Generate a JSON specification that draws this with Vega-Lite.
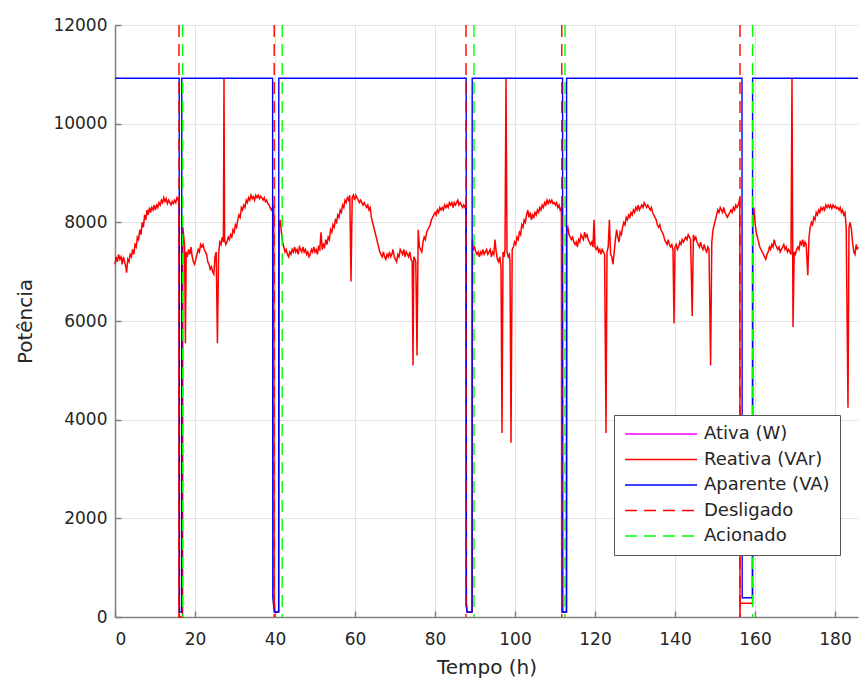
{
"$schema": "https://vega.github.io/schema/vega-lite/v6.json",
"autosize": "none",
"width": 743,
"height": 592,
"padding": {"left": 115, "top": 25, "right": 2, "bottom": 67},
"background": "white",
"datasets": {
"reativa": [
{"s":"Reativa (VAr)","t":0,"v":7150},{"s":"Reativa (VAr)","t":0.3,"v":7300},{"s":"Reativa (VAr)","t":0.6,"v":7200},{"s":"Reativa (VAr)","t":0.9,"v":7350},{"s":"Reativa (VAr)","t":1.2,"v":7250},{"s":"Reativa (VAr)","t":1.5,"v":7300},{"s":"Reativa (VAr)","t":1.8,"v":7150},{"s":"Reativa (VAr)","t":2.1,"v":7300},{"s":"Reativa (VAr)","t":2.4,"v":7200},{"s":"Reativa (VAr)","t":2.7,"v":7100},{"s":"Reativa (VAr)","t":2.9,"v":6980},{"s":"Reativa (VAr)","t":3.2,"v":7250},{"s":"Reativa (VAr)","t":3.5,"v":7200},{"s":"Reativa (VAr)","t":3.8,"v":7350},{"s":"Reativa (VAr)","t":4.1,"v":7300},{"s":"Reativa (VAr)","t":4.4,"v":7450},{"s":"Reativa (VAr)","t":4.7,"v":7350},{"s":"Reativa (VAr)","t":5.0,"v":7550},{"s":"Reativa (VAr)","t":5.3,"v":7500},{"s":"Reativa (VAr)","t":5.6,"v":7700},{"s":"Reativa (VAr)","t":5.9,"v":7650},{"s":"Reativa (VAr)","t":6.2,"v":7850},{"s":"Reativa (VAr)","t":6.5,"v":7750},{"s":"Reativa (VAr)","t":6.8,"v":8000},{"s":"Reativa (VAr)","t":7.1,"v":7900},{"s":"Reativa (VAr)","t":7.4,"v":8150},{"s":"Reativa (VAr)","t":7.7,"v":8050},{"s":"Reativa (VAr)","t":8.0,"v":8250},{"s":"Reativa (VAr)","t":8.3,"v":8150},{"s":"Reativa (VAr)","t":8.6,"v":8300},{"s":"Reativa (VAr)","t":8.9,"v":8200},{"s":"Reativa (VAr)","t":9.2,"v":8300},{"s":"Reativa (VAr)","t":9.5,"v":8250},{"s":"Reativa (VAr)","t":9.8,"v":8350},{"s":"Reativa (VAr)","t":10.1,"v":8250},{"s":"Reativa (VAr)","t":10.4,"v":8350},{"s":"Reativa (VAr)","t":10.7,"v":8300},{"s":"Reativa (VAr)","t":11.0,"v":8400},{"s":"Reativa (VAr)","t":11.3,"v":8350},{"s":"Reativa (VAr)","t":11.6,"v":8450},{"s":"Reativa (VAr)","t":11.9,"v":8400},{"s":"Reativa (VAr)","t":12.2,"v":8500},{"s":"Reativa (VAr)","t":12.5,"v":8420},{"s":"Reativa (VAr)","t":12.8,"v":8480},{"s":"Reativa (VAr)","t":13.1,"v":8380},{"s":"Reativa (VAr)","t":13.4,"v":8450},{"s":"Reativa (VAr)","t":13.7,"v":8400},{"s":"Reativa (VAr)","t":14.0,"v":8350},{"s":"Reativa (VAr)","t":14.3,"v":8420},{"s":"Reativa (VAr)","t":14.6,"v":8380},{"s":"Reativa (VAr)","t":14.9,"v":8450},{"s":"Reativa (VAr)","t":15.2,"v":8400},{"s":"Reativa (VAr)","t":15.5,"v":8500},{"s":"Reativa (VAr)","t":15.8,"v":8450},{"s":"Reativa (VAr)","t":16.0,"v":8450},{"s":"Reativa (VAr)","t":16.02,"v":0},{"s":"Reativa (VAr)","t":16.88,"v":0},
{"s":"Reativa (VAr)","t":16.95,"v":7900},{"s":"Reativa (VAr)","t":17.2,"v":7700},{"s":"Reativa (VAr)","t":17.4,"v":7500},{"s":"Reativa (VAr)","t":17.6,"v":5550},{"s":"Reativa (VAr)","t":17.8,"v":7400},{"s":"Reativa (VAr)","t":18.1,"v":7300},{"s":"Reativa (VAr)","t":18.4,"v":7450},{"s":"Reativa (VAr)","t":18.7,"v":7350},{"s":"Reativa (VAr)","t":19.0,"v":7500},{"s":"Reativa (VAr)","t":19.3,"v":7300},{"s":"Reativa (VAr)","t":19.6,"v":7200},{"s":"Reativa (VAr)","t":19.9,"v":7150},{"s":"Reativa (VAr)","t":20.2,"v":7250},{"s":"Reativa (VAr)","t":20.5,"v":7350},{"s":"Reativa (VAr)","t":20.8,"v":7450},{"s":"Reativa (VAr)","t":21.1,"v":7400},{"s":"Reativa (VAr)","t":21.4,"v":7550},{"s":"Reativa (VAr)","t":21.7,"v":7500},{"s":"Reativa (VAr)","t":22.0,"v":7550},{"s":"Reativa (VAr)","t":22.3,"v":7450},{"s":"Reativa (VAr)","t":22.6,"v":7400},{"s":"Reativa (VAr)","t":22.9,"v":7350},{"s":"Reativa (VAr)","t":23.2,"v":7200},{"s":"Reativa (VAr)","t":23.5,"v":7150},{"s":"Reativa (VAr)","t":23.8,"v":7050},{"s":"Reativa (VAr)","t":24.1,"v":7100},{"s":"Reativa (VAr)","t":24.4,"v":7000},{"s":"Reativa (VAr)","t":24.7,"v":6950},{"s":"Reativa (VAr)","t":25.0,"v":7300},{"s":"Reativa (VAr)","t":25.3,"v":7400},{"s":"Reativa (VAr)","t":25.6,"v":5550},{"s":"Reativa (VAr)","t":25.9,"v":7350},{"s":"Reativa (VAr)","t":26.2,"v":7600},{"s":"Reativa (VAr)","t":26.5,"v":7550},{"s":"Reativa (VAr)","t":26.8,"v":7700},{"s":"Reativa (VAr)","t":27.1,"v":7600},{"s":"Reativa (VAr)","t":27.25,"v":10920},{"s":"Reativa (VAr)","t":27.4,"v":7650},{"s":"Reativa (VAr)","t":27.7,"v":7550},{"s":"Reativa (VAr)","t":28.0,"v":7600},{"s":"Reativa (VAr)","t":28.3,"v":7700},{"s":"Reativa (VAr)","t":28.6,"v":7650},{"s":"Reativa (VAr)","t":28.9,"v":7750},{"s":"Reativa (VAr)","t":29.2,"v":7700},{"s":"Reativa (VAr)","t":29.5,"v":7850},{"s":"Reativa (VAr)","t":29.8,"v":7800},{"s":"Reativa (VAr)","t":30.1,"v":7950},{"s":"Reativa (VAr)","t":30.4,"v":7900},{"s":"Reativa (VAr)","t":30.7,"v":8050},{"s":"Reativa (VAr)","t":31.0,"v":8150},{"s":"Reativa (VAr)","t":31.3,"v":8100},{"s":"Reativa (VAr)","t":31.6,"v":8300},{"s":"Reativa (VAr)","t":31.9,"v":8250},{"s":"Reativa (VAr)","t":32.2,"v":8350},{"s":"Reativa (VAr)","t":32.5,"v":8300},{"s":"Reativa (VAr)","t":32.8,"v":8450},{"s":"Reativa (VAr)","t":33.1,"v":8400},{"s":"Reativa (VAr)","t":33.4,"v":8500},{"s":"Reativa (VAr)","t":33.7,"v":8450},{"s":"Reativa (VAr)","t":34.0,"v":8550},{"s":"Reativa (VAr)","t":34.3,"v":8480},{"s":"Reativa (VAr)","t":34.6,"v":8520},{"s":"Reativa (VAr)","t":34.9,"v":8450},{"s":"Reativa (VAr)","t":35.2,"v":8550},{"s":"Reativa (VAr)","t":35.5,"v":8500},{"s":"Reativa (VAr)","t":35.8,"v":8550},{"s":"Reativa (VAr)","t":36.1,"v":8480},{"s":"Reativa (VAr)","t":36.4,"v":8530},{"s":"Reativa (VAr)","t":36.7,"v":8500},{"s":"Reativa (VAr)","t":37.0,"v":8450},{"s":"Reativa (VAr)","t":37.3,"v":8500},{"s":"Reativa (VAr)","t":37.6,"v":8420},{"s":"Reativa (VAr)","t":37.9,"v":8450},{"s":"Reativa (VAr)","t":38.2,"v":8380},{"s":"Reativa (VAr)","t":38.5,"v":8350},{"s":"Reativa (VAr)","t":38.8,"v":8300},{"s":"Reativa (VAr)","t":39.1,"v":8250},{"s":"Reativa (VAr)","t":39.4,"v":8300},{"s":"Reativa (VAr)","t":39.7,"v":8350},{"s":"Reativa (VAr)","t":39.78,"v":350},{"s":"Reativa (VAr)","t":40.0,"v":100},{"s":"Reativa (VAr)","t":40.95,"v":100},
{"s":"Reativa (VAr)","t":41.05,"v":7950},{"s":"Reativa (VAr)","t":41.3,"v":8050},{"s":"Reativa (VAr)","t":41.6,"v":7800},{"s":"Reativa (VAr)","t":41.9,"v":7600},{"s":"Reativa (VAr)","t":42.2,"v":7500},{"s":"Reativa (VAr)","t":42.5,"v":7400},{"s":"Reativa (VAr)","t":42.8,"v":7450},{"s":"Reativa (VAr)","t":43.1,"v":7350},{"s":"Reativa (VAr)","t":43.4,"v":7300},{"s":"Reativa (VAr)","t":43.7,"v":7400},{"s":"Reativa (VAr)","t":44.0,"v":7350},{"s":"Reativa (VAr)","t":44.3,"v":7450},{"s":"Reativa (VAr)","t":44.6,"v":7400},{"s":"Reativa (VAr)","t":44.9,"v":7500},{"s":"Reativa (VAr)","t":45.2,"v":7400},{"s":"Reativa (VAr)","t":45.5,"v":7450},{"s":"Reativa (VAr)","t":45.8,"v":7350},{"s":"Reativa (VAr)","t":46.1,"v":7500},{"s":"Reativa (VAr)","t":46.4,"v":7450},{"s":"Reativa (VAr)","t":46.7,"v":7400},{"s":"Reativa (VAr)","t":47.0,"v":7500},{"s":"Reativa (VAr)","t":47.3,"v":7400},{"s":"Reativa (VAr)","t":47.6,"v":7450},{"s":"Reativa (VAr)","t":47.9,"v":7350},{"s":"Reativa (VAr)","t":48.2,"v":7400},{"s":"Reativa (VAr)","t":48.5,"v":7300},{"s":"Reativa (VAr)","t":48.8,"v":7350},{"s":"Reativa (VAr)","t":49.1,"v":7450},{"s":"Reativa (VAr)","t":49.4,"v":7400},{"s":"Reativa (VAr)","t":49.7,"v":7500},{"s":"Reativa (VAr)","t":50.0,"v":7400},{"s":"Reativa (VAr)","t":50.3,"v":7450},{"s":"Reativa (VAr)","t":50.6,"v":7350},{"s":"Reativa (VAr)","t":50.9,"v":7500},{"s":"Reativa (VAr)","t":51.2,"v":7450},{"s":"Reativa (VAr)","t":51.5,"v":7800},{"s":"Reativa (VAr)","t":51.8,"v":7450},{"s":"Reativa (VAr)","t":52.1,"v":7550},{"s":"Reativa (VAr)","t":52.4,"v":7500},{"s":"Reativa (VAr)","t":52.7,"v":7650},{"s":"Reativa (VAr)","t":53.0,"v":7550},{"s":"Reativa (VAr)","t":53.3,"v":7700},{"s":"Reativa (VAr)","t":53.6,"v":7650},{"s":"Reativa (VAr)","t":53.9,"v":7850},{"s":"Reativa (VAr)","t":54.2,"v":7800},{"s":"Reativa (VAr)","t":54.5,"v":7950},{"s":"Reativa (VAr)","t":54.8,"v":7900},{"s":"Reativa (VAr)","t":55.1,"v":8050},{"s":"Reativa (VAr)","t":55.4,"v":8000},{"s":"Reativa (VAr)","t":55.7,"v":8150},{"s":"Reativa (VAr)","t":56.0,"v":8100},{"s":"Reativa (VAr)","t":56.3,"v":8250},{"s":"Reativa (VAr)","t":56.6,"v":8200},{"s":"Reativa (VAr)","t":56.9,"v":8350},{"s":"Reativa (VAr)","t":57.2,"v":8300},{"s":"Reativa (VAr)","t":57.5,"v":8450},{"s":"Reativa (VAr)","t":57.8,"v":8400},{"s":"Reativa (VAr)","t":58.1,"v":8500},{"s":"Reativa (VAr)","t":58.4,"v":8450},{"s":"Reativa (VAr)","t":58.7,"v":8550},{"s":"Reativa (VAr)","t":59.0,"v":6800},{"s":"Reativa (VAr)","t":59.3,"v":8500},{"s":"Reativa (VAr)","t":59.6,"v":8550},{"s":"Reativa (VAr)","t":59.9,"v":8450},{"s":"Reativa (VAr)","t":60.2,"v":8550},{"s":"Reativa (VAr)","t":60.5,"v":8500},{"s":"Reativa (VAr)","t":60.8,"v":8450},{"s":"Reativa (VAr)","t":61.1,"v":8400},{"s":"Reativa (VAr)","t":61.4,"v":8450},{"s":"Reativa (VAr)","t":61.7,"v":8400},{"s":"Reativa (VAr)","t":62.0,"v":8350},{"s":"Reativa (VAr)","t":62.3,"v":8400},{"s":"Reativa (VAr)","t":62.6,"v":8350},{"s":"Reativa (VAr)","t":62.9,"v":8300},{"s":"Reativa (VAr)","t":63.2,"v":8350},{"s":"Reativa (VAr)","t":63.5,"v":8250},{"s":"Reativa (VAr)","t":63.8,"v":8300},{"s":"Reativa (VAr)","t":64.1,"v":8100},{"s":"Reativa (VAr)","t":64.4,"v":8000},{"s":"Reativa (VAr)","t":64.7,"v":7900},{"s":"Reativa (VAr)","t":65.0,"v":7800},{"s":"Reativa (VAr)","t":65.3,"v":7700},{"s":"Reativa (VAr)","t":65.6,"v":7600},{"s":"Reativa (VAr)","t":65.9,"v":7500},{"s":"Reativa (VAr)","t":66.2,"v":7400},{"s":"Reativa (VAr)","t":66.5,"v":7350},{"s":"Reativa (VAr)","t":66.8,"v":7300},{"s":"Reativa (VAr)","t":67.1,"v":7400},{"s":"Reativa (VAr)","t":67.4,"v":7300},{"s":"Reativa (VAr)","t":67.7,"v":7250},{"s":"Reativa (VAr)","t":68.0,"v":7350},{"s":"Reativa (VAr)","t":68.3,"v":7300},{"s":"Reativa (VAr)","t":68.6,"v":7400},{"s":"Reativa (VAr)","t":68.9,"v":7300},{"s":"Reativa (VAr)","t":69.2,"v":7350},{"s":"Reativa (VAr)","t":69.5,"v":7450},{"s":"Reativa (VAr)","t":69.8,"v":7300},{"s":"Reativa (VAr)","t":70.1,"v":7250},{"s":"Reativa (VAr)","t":70.4,"v":7200},{"s":"Reativa (VAr)","t":70.7,"v":7350},{"s":"Reativa (VAr)","t":71.0,"v":7300},{"s":"Reativa (VAr)","t":71.3,"v":7450},{"s":"Reativa (VAr)","t":71.6,"v":7400},{"s":"Reativa (VAr)","t":71.9,"v":7350},{"s":"Reativa (VAr)","t":72.2,"v":7450},{"s":"Reativa (VAr)","t":72.5,"v":7300},{"s":"Reativa (VAr)","t":72.8,"v":7400},{"s":"Reativa (VAr)","t":73.1,"v":7350},{"s":"Reativa (VAr)","t":73.4,"v":7300},{"s":"Reativa (VAr)","t":73.7,"v":7400},{"s":"Reativa (VAr)","t":74.0,"v":7250},{"s":"Reativa (VAr)","t":74.3,"v":7200},{"s":"Reativa (VAr)","t":74.5,"v":5100},{"s":"Reativa (VAr)","t":74.7,"v":7300},{"s":"Reativa (VAr)","t":75.0,"v":7250},{"s":"Reativa (VAr)","t":75.2,"v":7200},{"s":"Reativa (VAr)","t":75.5,"v":5300},{"s":"Reativa (VAr)","t":75.8,"v":7850},{"s":"Reativa (VAr)","t":76.1,"v":7500},{"s":"Reativa (VAr)","t":76.4,"v":7450},{"s":"Reativa (VAr)","t":76.7,"v":7400},{"s":"Reativa (VAr)","t":77.0,"v":7600},{"s":"Reativa (VAr)","t":77.3,"v":7700},{"s":"Reativa (VAr)","t":77.6,"v":7650},{"s":"Reativa (VAr)","t":77.9,"v":7800},{"s":"Reativa (VAr)","t":78.2,"v":7850},{"s":"Reativa (VAr)","t":78.5,"v":7900},{"s":"Reativa (VAr)","t":78.8,"v":7950},{"s":"Reativa (VAr)","t":79.1,"v":8050},{"s":"Reativa (VAr)","t":79.4,"v":8100},{"s":"Reativa (VAr)","t":79.7,"v":8150},{"s":"Reativa (VAr)","t":80.0,"v":8200},{"s":"Reativa (VAr)","t":80.3,"v":8150},{"s":"Reativa (VAr)","t":80.6,"v":8250},{"s":"Reativa (VAr)","t":80.9,"v":8200},{"s":"Reativa (VAr)","t":81.2,"v":8300},{"s":"Reativa (VAr)","t":81.5,"v":8250},{"s":"Reativa (VAr)","t":81.8,"v":8300},{"s":"Reativa (VAr)","t":82.1,"v":8250},{"s":"Reativa (VAr)","t":82.4,"v":8350},{"s":"Reativa (VAr)","t":82.7,"v":8300},{"s":"Reativa (VAr)","t":83.0,"v":8350},{"s":"Reativa (VAr)","t":83.3,"v":8300},{"s":"Reativa (VAr)","t":83.6,"v":8400},{"s":"Reativa (VAr)","t":83.9,"v":8350},{"s":"Reativa (VAr)","t":84.2,"v":8400},{"s":"Reativa (VAr)","t":84.5,"v":8300},{"s":"Reativa (VAr)","t":84.8,"v":8400},{"s":"Reativa (VAr)","t":85.1,"v":8350},{"s":"Reativa (VAr)","t":85.4,"v":8400},{"s":"Reativa (VAr)","t":85.7,"v":8450},{"s":"Reativa (VAr)","t":86.0,"v":8350},{"s":"Reativa (VAr)","t":86.3,"v":8400},{"s":"Reativa (VAr)","t":86.6,"v":8350},{"s":"Reativa (VAr)","t":86.9,"v":8300},{"s":"Reativa (VAr)","t":87.2,"v":8350},{"s":"Reativa (VAr)","t":87.5,"v":8300},{"s":"Reativa (VAr)","t":87.7,"v":8350},{"s":"Reativa (VAr)","t":87.78,"v":300},{"s":"Reativa (VAr)","t":88.0,"v":100},{"s":"Reativa (VAr)","t":89.3,"v":100},
{"s":"Reativa (VAr)","t":89.35,"v":7650},{"s":"Reativa (VAr)","t":89.6,"v":7450},{"s":"Reativa (VAr)","t":89.9,"v":7500},{"s":"Reativa (VAr)","t":90.2,"v":7400},{"s":"Reativa (VAr)","t":90.5,"v":7350},{"s":"Reativa (VAr)","t":90.8,"v":7400},{"s":"Reativa (VAr)","t":91.1,"v":7300},{"s":"Reativa (VAr)","t":91.4,"v":7400},{"s":"Reativa (VAr)","t":91.7,"v":7350},{"s":"Reativa (VAr)","t":92.0,"v":7450},{"s":"Reativa (VAr)","t":92.3,"v":7350},{"s":"Reativa (VAr)","t":92.6,"v":7400},{"s":"Reativa (VAr)","t":92.9,"v":7450},{"s":"Reativa (VAr)","t":93.2,"v":7350},{"s":"Reativa (VAr)","t":93.5,"v":7400},{"s":"Reativa (VAr)","t":93.8,"v":7450},{"s":"Reativa (VAr)","t":94.1,"v":7300},{"s":"Reativa (VAr)","t":94.4,"v":7400},{"s":"Reativa (VAr)","t":94.7,"v":7350},{"s":"Reativa (VAr)","t":95.0,"v":7650},{"s":"Reativa (VAr)","t":95.3,"v":7400},{"s":"Reativa (VAr)","t":95.6,"v":7250},{"s":"Reativa (VAr)","t":95.9,"v":7200},{"s":"Reativa (VAr)","t":96.2,"v":7300},{"s":"Reativa (VAr)","t":96.5,"v":7100},{"s":"Reativa (VAr)","t":96.75,"v":3730},{"s":"Reativa (VAr)","t":97.0,"v":7400},{"s":"Reativa (VAr)","t":97.3,"v":7300},{"s":"Reativa (VAr)","t":97.5,"v":7450},{"s":"Reativa (VAr)","t":97.75,"v":10920},{"s":"Reativa (VAr)","t":98.0,"v":7400},{"s":"Reativa (VAr)","t":98.3,"v":7300},{"s":"Reativa (VAr)","t":98.6,"v":7350},{"s":"Reativa (VAr)","t":98.75,"v":7200},{"s":"Reativa (VAr)","t":99.0,"v":3530},{"s":"Reativa (VAr)","t":99.3,"v":7450},{"s":"Reativa (VAr)","t":99.6,"v":7500},{"s":"Reativa (VAr)","t":99.9,"v":7600},{"s":"Reativa (VAr)","t":100.2,"v":7550},{"s":"Reativa (VAr)","t":100.5,"v":7700},{"s":"Reativa (VAr)","t":100.8,"v":7650},{"s":"Reativa (VAr)","t":101.1,"v":7800},{"s":"Reativa (VAr)","t":101.4,"v":7750},{"s":"Reativa (VAr)","t":101.7,"v":7950},{"s":"Reativa (VAr)","t":102.0,"v":7900},{"s":"Reativa (VAr)","t":102.3,"v":8050},{"s":"Reativa (VAr)","t":102.6,"v":8000},{"s":"Reativa (VAr)","t":102.9,"v":8150},{"s":"Reativa (VAr)","t":103.2,"v":8250},{"s":"Reativa (VAr)","t":103.5,"v":8100},{"s":"Reativa (VAr)","t":103.8,"v":8200},{"s":"Reativa (VAr)","t":104.1,"v":8050},{"s":"Reativa (VAr)","t":104.4,"v":8150},{"s":"Reativa (VAr)","t":104.7,"v":8100},{"s":"Reativa (VAr)","t":105.0,"v":8200},{"s":"Reativa (VAr)","t":105.3,"v":8150},{"s":"Reativa (VAr)","t":105.6,"v":8250},{"s":"Reativa (VAr)","t":105.9,"v":8200},{"s":"Reativa (VAr)","t":106.2,"v":8300},{"s":"Reativa (VAr)","t":106.5,"v":8250},{"s":"Reativa (VAr)","t":106.8,"v":8350},{"s":"Reativa (VAr)","t":107.1,"v":8300},{"s":"Reativa (VAr)","t":107.4,"v":8400},{"s":"Reativa (VAr)","t":107.7,"v":8350},{"s":"Reativa (VAr)","t":108.0,"v":8450},{"s":"Reativa (VAr)","t":108.3,"v":8380},{"s":"Reativa (VAr)","t":108.6,"v":8450},{"s":"Reativa (VAr)","t":108.9,"v":8400},{"s":"Reativa (VAr)","t":109.2,"v":8450},{"s":"Reativa (VAr)","t":109.5,"v":8380},{"s":"Reativa (VAr)","t":109.8,"v":8400},{"s":"Reativa (VAr)","t":110.1,"v":8350},{"s":"Reativa (VAr)","t":110.4,"v":8400},{"s":"Reativa (VAr)","t":110.7,"v":8300},{"s":"Reativa (VAr)","t":111.0,"v":8350},{"s":"Reativa (VAr)","t":111.3,"v":8250},{"s":"Reativa (VAr)","t":111.6,"v":8300},{"s":"Reativa (VAr)","t":111.68,"v":100},{"s":"Reativa (VAr)","t":112.9,"v":100},
{"s":"Reativa (VAr)","t":112.95,"v":7850},{"s":"Reativa (VAr)","t":113.2,"v":7900},{"s":"Reativa (VAr)","t":113.5,"v":7750},{"s":"Reativa (VAr)","t":113.8,"v":7700},{"s":"Reativa (VAr)","t":114.1,"v":7650},{"s":"Reativa (VAr)","t":114.4,"v":7700},{"s":"Reativa (VAr)","t":114.7,"v":7600},{"s":"Reativa (VAr)","t":115.0,"v":7550},{"s":"Reativa (VAr)","t":115.3,"v":7600},{"s":"Reativa (VAr)","t":115.6,"v":7500},{"s":"Reativa (VAr)","t":115.9,"v":7650},{"s":"Reativa (VAr)","t":116.2,"v":7600},{"s":"Reativa (VAr)","t":116.5,"v":7750},{"s":"Reativa (VAr)","t":116.8,"v":7700},{"s":"Reativa (VAr)","t":117.1,"v":7650},{"s":"Reativa (VAr)","t":117.4,"v":7800},{"s":"Reativa (VAr)","t":117.7,"v":7700},{"s":"Reativa (VAr)","t":118.0,"v":7750},{"s":"Reativa (VAr)","t":118.3,"v":7650},{"s":"Reativa (VAr)","t":118.6,"v":7600},{"s":"Reativa (VAr)","t":118.9,"v":7550},{"s":"Reativa (VAr)","t":119.2,"v":7600},{"s":"Reativa (VAr)","t":119.5,"v":7500},{"s":"Reativa (VAr)","t":119.75,"v":8050},{"s":"Reativa (VAr)","t":120.0,"v":7500},{"s":"Reativa (VAr)","t":120.3,"v":7450},{"s":"Reativa (VAr)","t":120.6,"v":7500},{"s":"Reativa (VAr)","t":120.9,"v":7400},{"s":"Reativa (VAr)","t":121.2,"v":7450},{"s":"Reativa (VAr)","t":121.5,"v":7350},{"s":"Reativa (VAr)","t":121.8,"v":7450},{"s":"Reativa (VAr)","t":122.1,"v":7400},{"s":"Reativa (VAr)","t":122.4,"v":7350},{"s":"Reativa (VAr)","t":122.75,"v":3730},{"s":"Reativa (VAr)","t":123.0,"v":7400},{"s":"Reativa (VAr)","t":123.3,"v":7500},{"s":"Reativa (VAr)","t":123.6,"v":8050},{"s":"Reativa (VAr)","t":123.9,"v":7350},{"s":"Reativa (VAr)","t":124.2,"v":7300},{"s":"Reativa (VAr)","t":124.5,"v":7150},{"s":"Reativa (VAr)","t":124.8,"v":7400},{"s":"Reativa (VAr)","t":125.1,"v":7650},{"s":"Reativa (VAr)","t":125.4,"v":7850},{"s":"Reativa (VAr)","t":125.7,"v":7700},{"s":"Reativa (VAr)","t":126.0,"v":7600},{"s":"Reativa (VAr)","t":126.3,"v":7800},{"s":"Reativa (VAr)","t":126.6,"v":7750},{"s":"Reativa (VAr)","t":126.9,"v":7900},{"s":"Reativa (VAr)","t":127.2,"v":8000},{"s":"Reativa (VAr)","t":127.5,"v":7950},{"s":"Reativa (VAr)","t":127.8,"v":8100},{"s":"Reativa (VAr)","t":128.1,"v":8050},{"s":"Reativa (VAr)","t":128.4,"v":8150},{"s":"Reativa (VAr)","t":128.7,"v":8100},{"s":"Reativa (VAr)","t":129.0,"v":8200},{"s":"Reativa (VAr)","t":129.3,"v":8150},{"s":"Reativa (VAr)","t":129.6,"v":8250},{"s":"Reativa (VAr)","t":129.9,"v":8200},{"s":"Reativa (VAr)","t":130.2,"v":8300},{"s":"Reativa (VAr)","t":130.5,"v":8250},{"s":"Reativa (VAr)","t":130.8,"v":8350},{"s":"Reativa (VAr)","t":131.1,"v":8250},{"s":"Reativa (VAr)","t":131.4,"v":8300},{"s":"Reativa (VAr)","t":131.7,"v":8350},{"s":"Reativa (VAr)","t":132.0,"v":8300},{"s":"Reativa (VAr)","t":132.3,"v":8400},{"s":"Reativa (VAr)","t":132.6,"v":8350},{"s":"Reativa (VAr)","t":132.9,"v":8300},{"s":"Reativa (VAr)","t":133.2,"v":8350},{"s":"Reativa (VAr)","t":133.5,"v":8300},{"s":"Reativa (VAr)","t":133.8,"v":8250},{"s":"Reativa (VAr)","t":134.1,"v":8300},{"s":"Reativa (VAr)","t":134.4,"v":8200},{"s":"Reativa (VAr)","t":134.7,"v":8150},{"s":"Reativa (VAr)","t":135.0,"v":8100},{"s":"Reativa (VAr)","t":135.3,"v":8050},{"s":"Reativa (VAr)","t":135.6,"v":7950},{"s":"Reativa (VAr)","t":135.9,"v":7900},{"s":"Reativa (VAr)","t":136.2,"v":7950},{"s":"Reativa (VAr)","t":136.5,"v":7850},{"s":"Reativa (VAr)","t":136.8,"v":7800},{"s":"Reativa (VAr)","t":137.1,"v":7750},{"s":"Reativa (VAr)","t":137.4,"v":7650},{"s":"Reativa (VAr)","t":137.7,"v":7600},{"s":"Reativa (VAr)","t":138.0,"v":7550},{"s":"Reativa (VAr)","t":138.3,"v":7650},{"s":"Reativa (VAr)","t":138.6,"v":7550},{"s":"Reativa (VAr)","t":138.9,"v":7500},{"s":"Reativa (VAr)","t":139.2,"v":7550},{"s":"Reativa (VAr)","t":139.5,"v":7450},{"s":"Reativa (VAr)","t":139.75,"v":5950},{"s":"Reativa (VAr)","t":140.0,"v":7500},{"s":"Reativa (VAr)","t":140.3,"v":7550},{"s":"Reativa (VAr)","t":140.6,"v":7450},{"s":"Reativa (VAr)","t":140.9,"v":7500},{"s":"Reativa (VAr)","t":141.2,"v":7600},{"s":"Reativa (VAr)","t":141.5,"v":7550},{"s":"Reativa (VAr)","t":141.8,"v":7650},{"s":"Reativa (VAr)","t":142.1,"v":7600},{"s":"Reativa (VAr)","t":142.4,"v":7650},{"s":"Reativa (VAr)","t":142.7,"v":7700},{"s":"Reativa (VAr)","t":143.0,"v":7650},{"s":"Reativa (VAr)","t":143.3,"v":7750},{"s":"Reativa (VAr)","t":143.6,"v":7700},{"s":"Reativa (VAr)","t":143.9,"v":7650},{"s":"Reativa (VAr)","t":144.3,"v":6100},{"s":"Reativa (VAr)","t":144.6,"v":7750},{"s":"Reativa (VAr)","t":144.9,"v":7650},{"s":"Reativa (VAr)","t":145.2,"v":7700},{"s":"Reativa (VAr)","t":145.5,"v":7600},{"s":"Reativa (VAr)","t":145.8,"v":7550},{"s":"Reativa (VAr)","t":146.1,"v":7500},{"s":"Reativa (VAr)","t":146.4,"v":7600},{"s":"Reativa (VAr)","t":146.7,"v":7500},{"s":"Reativa (VAr)","t":147.0,"v":7450},{"s":"Reativa (VAr)","t":147.3,"v":7550},{"s":"Reativa (VAr)","t":147.6,"v":7450},{"s":"Reativa (VAr)","t":147.9,"v":7400},{"s":"Reativa (VAr)","t":148.2,"v":7500},{"s":"Reativa (VAr)","t":148.5,"v":7450},{"s":"Reativa (VAr)","t":148.9,"v":5100},{"s":"Reativa (VAr)","t":149.2,"v":7600},{"s":"Reativa (VAr)","t":149.5,"v":7850},{"s":"Reativa (VAr)","t":149.8,"v":7950},{"s":"Reativa (VAr)","t":150.1,"v":8050},{"s":"Reativa (VAr)","t":150.4,"v":8150},{"s":"Reativa (VAr)","t":150.7,"v":8250},{"s":"Reativa (VAr)","t":151.0,"v":8200},{"s":"Reativa (VAr)","t":151.3,"v":8300},{"s":"Reativa (VAr)","t":151.6,"v":8250},{"s":"Reativa (VAr)","t":151.9,"v":8200},{"s":"Reativa (VAr)","t":152.2,"v":8300},{"s":"Reativa (VAr)","t":152.5,"v":8200},{"s":"Reativa (VAr)","t":152.8,"v":8150},{"s":"Reativa (VAr)","t":153.1,"v":8100},{"s":"Reativa (VAr)","t":153.4,"v":8150},{"s":"Reativa (VAr)","t":153.7,"v":8200},{"s":"Reativa (VAr)","t":154.0,"v":8250},{"s":"Reativa (VAr)","t":154.3,"v":8200},{"s":"Reativa (VAr)","t":154.6,"v":8300},{"s":"Reativa (VAr)","t":154.9,"v":8250},{"s":"Reativa (VAr)","t":155.2,"v":8350},{"s":"Reativa (VAr)","t":155.5,"v":8300},{"s":"Reativa (VAr)","t":155.8,"v":8350},{"s":"Reativa (VAr)","t":156.1,"v":8450},{"s":"Reativa (VAr)","t":156.2,"v":8500},{"s":"Reativa (VAr)","t":156.25,"v":0},{"s":"Reativa (VAr)","t":156.3,"v":280},{"s":"Reativa (VAr)","t":159.4,"v":280},
{"s":"Reativa (VAr)","t":159.45,"v":8250},{"s":"Reativa (VAr)","t":159.7,"v":8300},{"s":"Reativa (VAr)","t":160.0,"v":8000},{"s":"Reativa (VAr)","t":160.3,"v":7800},{"s":"Reativa (VAr)","t":160.6,"v":7700},{"s":"Reativa (VAr)","t":160.9,"v":7600},{"s":"Reativa (VAr)","t":161.2,"v":7500},{"s":"Reativa (VAr)","t":161.5,"v":7450},{"s":"Reativa (VAr)","t":161.8,"v":7400},{"s":"Reativa (VAr)","t":162.1,"v":7350},{"s":"Reativa (VAr)","t":162.4,"v":7300},{"s":"Reativa (VAr)","t":162.7,"v":7250},{"s":"Reativa (VAr)","t":163.0,"v":7350},{"s":"Reativa (VAr)","t":163.3,"v":7400},{"s":"Reativa (VAr)","t":163.6,"v":7500},{"s":"Reativa (VAr)","t":163.9,"v":7450},{"s":"Reativa (VAr)","t":164.2,"v":7550},{"s":"Reativa (VAr)","t":164.5,"v":7500},{"s":"Reativa (VAr)","t":164.8,"v":7650},{"s":"Reativa (VAr)","t":165.1,"v":7550},{"s":"Reativa (VAr)","t":165.4,"v":7500},{"s":"Reativa (VAr)","t":165.7,"v":7450},{"s":"Reativa (VAr)","t":166.0,"v":7500},{"s":"Reativa (VAr)","t":166.3,"v":7400},{"s":"Reativa (VAr)","t":166.6,"v":7450},{"s":"Reativa (VAr)","t":166.9,"v":7500},{"s":"Reativa (VAr)","t":167.2,"v":7550},{"s":"Reativa (VAr)","t":167.5,"v":7450},{"s":"Reativa (VAr)","t":167.8,"v":7500},{"s":"Reativa (VAr)","t":168.1,"v":7400},{"s":"Reativa (VAr)","t":168.4,"v":7450},{"s":"Reativa (VAr)","t":168.7,"v":7400},{"s":"Reativa (VAr)","t":169.0,"v":7350},{"s":"Reativa (VAr)","t":169.25,"v":10920},{"s":"Reativa (VAr)","t":169.5,"v":5880},{"s":"Reativa (VAr)","t":169.8,"v":7400},{"s":"Reativa (VAr)","t":170.1,"v":7350},{"s":"Reativa (VAr)","t":170.4,"v":7450},{"s":"Reativa (VAr)","t":170.7,"v":7500},{"s":"Reativa (VAr)","t":171.0,"v":7450},{"s":"Reativa (VAr)","t":171.3,"v":7600},{"s":"Reativa (VAr)","t":171.6,"v":7550},{"s":"Reativa (VAr)","t":171.9,"v":7650},{"s":"Reativa (VAr)","t":172.2,"v":7500},{"s":"Reativa (VAr)","t":172.5,"v":7600},{"s":"Reativa (VAr)","t":172.8,"v":7550},{"s":"Reativa (VAr)","t":173.2,"v":6930},{"s":"Reativa (VAr)","t":173.5,"v":7700},{"s":"Reativa (VAr)","t":173.8,"v":7900},{"s":"Reativa (VAr)","t":174.1,"v":8000},{"s":"Reativa (VAr)","t":174.4,"v":7950},{"s":"Reativa (VAr)","t":174.7,"v":8100},{"s":"Reativa (VAr)","t":175.0,"v":8050},{"s":"Reativa (VAr)","t":175.3,"v":8200},{"s":"Reativa (VAr)","t":175.6,"v":8150},{"s":"Reativa (VAr)","t":175.9,"v":8250},{"s":"Reativa (VAr)","t":176.2,"v":8200},{"s":"Reativa (VAr)","t":176.5,"v":8300},{"s":"Reativa (VAr)","t":176.8,"v":8250},{"s":"Reativa (VAr)","t":177.1,"v":8300},{"s":"Reativa (VAr)","t":177.4,"v":8250},{"s":"Reativa (VAr)","t":177.7,"v":8350},{"s":"Reativa (VAr)","t":178.0,"v":8300},{"s":"Reativa (VAr)","t":178.3,"v":8350},{"s":"Reativa (VAr)","t":178.6,"v":8300},{"s":"Reativa (VAr)","t":178.9,"v":8350},{"s":"Reativa (VAr)","t":179.2,"v":8280},{"s":"Reativa (VAr)","t":179.5,"v":8350},{"s":"Reativa (VAr)","t":179.8,"v":8300},{"s":"Reativa (VAr)","t":180.1,"v":8330},{"s":"Reativa (VAr)","t":180.4,"v":8280},{"s":"Reativa (VAr)","t":180.7,"v":8300},{"s":"Reativa (VAr)","t":181.0,"v":8250},{"s":"Reativa (VAr)","t":181.3,"v":8300},{"s":"Reativa (VAr)","t":181.6,"v":8200},{"s":"Reativa (VAr)","t":181.9,"v":8250},{"s":"Reativa (VAr)","t":182.2,"v":8150},{"s":"Reativa (VAr)","t":182.5,"v":8200},{"s":"Reativa (VAr)","t":182.8,"v":7900},{"s":"Reativa (VAr)","t":183.25,"v":4240},{"s":"Reativa (VAr)","t":183.5,"v":7900},{"s":"Reativa (VAr)","t":183.8,"v":8000},{"s":"Reativa (VAr)","t":184.1,"v":7850},{"s":"Reativa (VAr)","t":184.4,"v":7600},{"s":"Reativa (VAr)","t":184.7,"v":7400},{"s":"Reativa (VAr)","t":185.0,"v":7350},{"s":"Reativa (VAr)","t":185.3,"v":7550},{"s":"Reativa (VAr)","t":185.6,"v":7450},{"s":"Reativa (VAr)","t":185.75,"v":7500}
],
"aparente": [
{"s":"Aparente (VA)","t":0,"v":10920},{"s":"Aparente (VA)","t":16.05,"v":10920},{"s":"Aparente (VA)","t":16.1,"v":100},{"s":"Aparente (VA)","t":16.65,"v":100},{"s":"Aparente (VA)","t":16.7,"v":10920},
{"s":"Aparente (VA)","t":39.4,"v":10920},{"s":"Aparente (VA)","t":39.45,"v":400},{"s":"Aparente (VA)","t":39.8,"v":100},{"s":"Aparente (VA)","t":40.9,"v":100},{"s":"Aparente (VA)","t":40.95,"v":10920},
{"s":"Aparente (VA)","t":87.8,"v":10920},{"s":"Aparente (VA)","t":87.85,"v":300},{"s":"Aparente (VA)","t":88.0,"v":100},{"s":"Aparente (VA)","t":89.25,"v":100},{"s":"Aparente (VA)","t":89.3,"v":10920},
{"s":"Aparente (VA)","t":111.9,"v":10920},{"s":"Aparente (VA)","t":111.95,"v":100},{"s":"Aparente (VA)","t":112.85,"v":100},{"s":"Aparente (VA)","t":112.9,"v":10920},
{"s":"Aparente (VA)","t":156.75,"v":10920},{"s":"Aparente (VA)","t":156.8,"v":390},{"s":"Aparente (VA)","t":159.35,"v":390},{"s":"Aparente (VA)","t":159.4,"v":10920},
{"s":"Aparente (VA)","t":185.75,"v":10920}
],
"eventos": [
{"s":"Desligado","t":16.0},{"s":"Desligado","t":39.8},{"s":"Desligado","t":87.75},{"s":"Desligado","t":111.7},{"s":"Desligado","t":156.25},
{"s":"Acionado","t":16.9},{"s":"Acionado","t":41.8},{"s":"Acionado","t":89.75},{"s":"Acionado","t":112.5},{"s":"Acionado","t":159.4}
]
},
"encoding": {
"x": {"field": "t", "type": "quantitative", "scale": {"domain": [0, 185.75], "nice": false, "zero": false},
  "axis": {"title": "Tempo (h)", "values": [0,20,40,60,80,100,120,140,160,180], "titlePadding": 10}},
"color": {"field": "s", "type": "nominal",
  "scale": {"domain": ["Ativa (W)","Reativa (VAr)","Aparente (VA)","Desligado","Acionado"], "range": ["#ff00ff","#ff0000","#0000ff","#ff0000","#00ff00"]},
  "legend": {"title": null, "orient": "none", "legendX": 499, "legendY": 390, "symbolType": "stroke", "symbolSize": 5184, "clipHeight": 18, "symbolStrokeWidth": 1.5, "labelFontSize": 18, "labelColor": "#262626", "labelFont": "DejaVu Sans", "labelOffset": 6, "rowPadding": 7.5, "padding": 10, "fillColor": "white", "strokeColor": "#555555", "symbolOpacity": 1}},
"strokeDash": {"field": "s", "type": "nominal",
  "scale": {"domain": ["Ativa (W)","Reativa (VAr)","Aparente (VA)","Desligado","Acionado"], "range": [[1,0],[1,0],[1,0],[12,7],[12,7]]},
  "legend": {"title": null}}
},
"layer": [
{"data": {"name": "reativa"}, "mark": {"type": "line", "strokeWidth": 1.5, "interpolate": "linear"},
 "encoding": {"y": {"field": "v", "type": "quantitative", "scale": {"domain": [0, 12000], "nice": false},
   "axis": {"title": "Potência", "values": [0,2000,4000,6000,8000,10000,12000], "format": "d", "titlePadding": 17}}}},
{"data": {"name": "aparente"}, "mark": {"type": "line", "strokeWidth": 1.4},
 "encoding": {"y": {"field": "v", "type": "quantitative"}}},
{"data": {"name": "eventos"}, "mark": {"type": "rule", "strokeWidth": 1.4}, "encoding": {}}
],
"config": {
"font": "DejaVu Sans",
"view": {"stroke": null},
"axis": {"grid": true, "gridColor": "#e3e3e3", "gridWidth": 1, "domainColor": "#808080", "domainWidth": 1.5, "tickColor": "#808080", "tickWidth": 1.5, "tickSize": -6, "labelFontSize": 17, "labelColor": "#262626", "labelFont": "DejaVu Sans", "titleFontSize": 20, "titleFontWeight": "normal", "titleColor": "#262626", "titleFont": "DejaVu Sans"},
"axisX": {"labelPadding": 20},
"axisY": {"labelPadding": 14, "labelFlush": false}
}
}
